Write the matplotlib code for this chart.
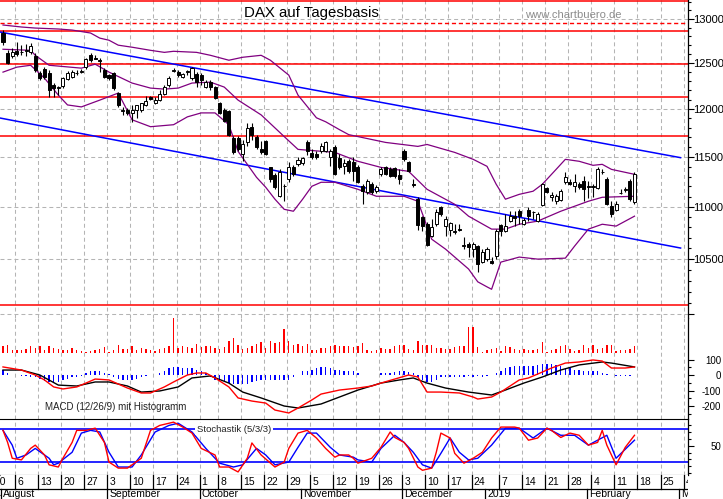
import matplotlib
matplotlib.use("Agg")
import matplotlib.pyplot as plt
from matplotlib.ticker import FixedLocator, FixedFormatter, NullFormatter
import numpy as np
import pandas as pd

plt.rcParams['font.family'] = ['Liberation Sans', 'DejaVu Sans']
plt.rcParams['axes.unicode_minus'] = False

# --- trading calendar shown on the chart ---
closed = pd.to_datetime(["2018-10-03", "2018-12-24", "2018-12-25", "2018-12-26", "2019-01-01"])
cal = pd.bdate_range("2018-07-30", "2019-03-08")
cal = cal[~cal.isin(closed)]
first = cal.get_loc(pd.Timestamp("2018-08-01"))


def pos(date):
    return cal.searchsorted(pd.Timestamp(date)) - first


# --- DAX daily candles, 1 Aug 2018 .. 15 Feb 2019 ---
opens = [12839, 12610, 12576, 12632, 12620, 12632, 12620, 12576, 12389, 12433,
         12389, 12258, 12225, 12247, 12323, 12345, 12385, 12400, 12455, 12587,
         12554, 12532, 12422, 12367, 12389, 12171, 11980, 11990, 11958, 11990,
         11990, 12043, 12128, 12064, 12095, 12160, 12258, 12411, 12400, 12345,
         12400, 12334, 12378, 12367, 12236, 12290, 12236, 12064, 11990, 11980,
         11699, 11699, 11524, 11648, 11812, 11709, 11576, 11658, 11392, 11312,
         11103, 11202, 11272, 11392, 11423, 11433, 11648, 11535, 11524, 11555,
         11555, 11494, 11596, 11484, 11403, 11454, 11443, 11392, 11202, 11143,
         11222, 11153, 11322, 11392, 11372, 11382, 11312, 11555, 11443, 11222,
         11074, 10898, 10830, 10716, 10830, 10995, 10812, 10773, 10754, 10783,
         10621, 10640, 10593, 10621, 10471, 10499, 10480, 10527, 10821, 10764,
         10860, 10908, 10956, 10830, 10966, 10950, 10860, 11015, 11182, 11093,
         11054, 11064, 11242, 11242, 11202, 11222, 11252, 11202, 11195, 11182,
         11342, 11272, 11005, 10966, 11133, 11165, 11252, 11044]
highs = [12873, 12643, 12666, 12735, 12701, 12712, 12724, 12610, 12411, 12455,
         12422, 12280, 12247, 12345, 12411, 12422, 12422, 12433, 12554, 12610,
         12587, 12554, 12444, 12378, 12400, 12182, 12022, 12011, 12043, 12043,
         12064, 12138, 12138, 12128, 12203, 12258, 12356, 12444, 12422, 12389,
         12422, 12455, 12400, 12389, 12312, 12312, 12247, 12074, 12011, 11990,
         11719, 11719, 11678, 11854, 11854, 11729, 11658, 11678, 11392, 11332,
         11372, 11222, 11443, 11413, 11494, 11494, 11678, 11576, 11555, 11638,
         11658, 11576, 11617, 11524, 11474, 11474, 11494, 11413, 11222, 11272,
         11242, 11212, 11392, 11403, 11392, 11392, 11372, 11576, 11454, 11272,
         11093, 10908, 10850, 10879, 10975, 11005, 10908, 10850, 10830, 10830,
         10706, 10659, 10659, 10631, 10593, 10612, 10518, 10783, 10830, 10927,
         10956, 10956, 10975, 10889, 10995, 10956, 10946, 11232, 11192, 11143,
         11122, 11172, 11342, 11272, 11322, 11242, 11302, 11252, 11222, 11392,
         11372, 11292, 11054, 11054, 11172, 11192, 11272, 11342]
lows = [12701, 12487, 12554, 12576, 12587, 12576, 12598, 12400, 12312, 12323,
        12128, 12128, 12149, 12225, 12312, 12334, 12367, 12389, 12433, 12510,
        12543, 12400, 12334, 12312, 12203, 12022, 11937, 11937, 11864, 11906,
        11969, 12032, 12095, 12053, 12085, 12149, 12236, 12400, 12345, 12334,
        12367, 12312, 12236, 12258, 12225, 12203, 12106, 11948, 11864, 11719,
        11524, 11555, 11454, 11607, 11678, 11576, 11524, 11514, 11242, 11172,
        11093, 11054, 11242, 11302, 11403, 11413, 11514, 11474, 11474, 11535,
        11545, 11403, 11312, 11372, 11322, 11332, 11252, 11232, 11024, 11122,
        11122, 11133, 11302, 11312, 11292, 11282, 11222, 11454, 11342, 11192,
        10773, 10764, 10621, 10706, 10812, 10908, 10716, 10716, 10735, 10764,
        10593, 10518, 10518, 10380, 10462, 10480, 10453, 10499, 10716, 10754,
        10850, 10812, 10830, 10821, 10860, 10879, 10850, 11005, 11133, 11054,
        11024, 11054, 11222, 11212, 11143, 11172, 11054, 11083, 11093, 11172,
        11322, 11015, 10898, 10956, 11122, 11143, 11054, 11024]
closes = [12735, 12500, 12620, 12598, 12625, 12643, 12689, 12422, 12334, 12345,
          12203, 12225, 12240, 12334, 12389, 12400, 12389, 12411, 12543, 12532,
          12548, 12525, 12345, 12334, 12225, 12043, 11985, 11958, 11990, 12043,
          12064, 12085, 12106, 12095, 12160, 12236, 12334, 12422, 12367, 12378,
          12411, 12444, 12290, 12312, 12290, 12236, 12117, 11958, 11874, 11729,
          11545, 11576, 11627, 11802, 11729, 11596, 11545, 11524, 11272, 11192,
          11342, 11205, 11392, 11322, 11464, 11484, 11555, 11494, 11494, 11607,
          11648, 11555, 11322, 11392, 11433, 11352, 11352, 11242, 11153, 11252,
          11143, 11192, 11372, 11322, 11302, 11302, 11272, 11474, 11352, 11215,
          10821, 10812, 10631, 10802, 10946, 10927, 10879, 10840, 10760, 10775,
          10630, 10612, 10640, 10453, 10565, 10593, 10462, 10764, 10764, 10812,
          10908, 10889, 10908, 10869, 10908, 10946, 10927, 11222, 11143, 11113,
          11103, 11153, 11292, 11222, 11242, 11192, 11172, 11195, 11205, 11372,
          11347, 11024, 10927, 11024, 11140, 11170, 11074, 11322]

# --- Bollinger bands (20), read at sample days ---
bb_up_day = [0, 4, 7, 12, 15, 19, 21, 23, 25, 28, 32, 35, 37, 42, 45, 49, 52, 56, 58, 62,
             64, 68, 70, 73, 75, 83, 90, 92, 98, 102, 105, 107, 109, 112, 115, 117, 120,
             122, 125, 128, 130, 132, 137]
bb_up = [12931, 12908, 12896, 12885, 12873, 12839, 12781, 12757, 12701, 12678, 12643,
         12620, 12632, 12620, 12587, 12532, 12565, 12587, 12532, 12367, 12149, 11906,
         11864, 11781, 11729, 11648, 11607, 11627, 11545, 11474, 11403, 11222, 11074,
         11122, 11153, 11222, 11372, 11474, 11454, 11413, 11423, 11372, 11322]
bb_mid_day = [0, 6, 7, 10, 17, 20, 23, 28, 32, 35, 38, 41, 45, 48, 51, 56, 61, 64, 72,
              77, 82, 88, 92, 98, 101, 106, 109, 112, 116, 121, 127, 130, 137]
bb_mid = [12655, 12643, 12587, 12476, 12444, 12488, 12400, 12280, 12225, 12214, 12225,
          12280, 12290, 12236, 12095, 11937, 11709, 11576, 11545, 11454, 11392, 11352,
          11172, 11024, 10908, 10783, 10783, 10830, 10860, 10956, 11054, 11093, 11103]
bb_low_day = [0, 3, 6, 9, 12, 14, 17, 21, 25, 28, 32, 37, 40, 43, 46, 49, 51, 53, 55, 57,
              59, 61, 63, 65, 67, 69, 72, 77, 81, 87, 90, 93, 96, 101, 103, 105, 106, 108,
              112, 116, 122, 124, 127, 130, 133, 137]
bb_low = [12400, 12455, 12476, 12334, 12149, 12043, 12022, 12095, 12171, 11885, 11812,
          11833, 11916, 11958, 11958, 11833, 11555, 11423, 11292, 11192, 11074, 10975,
          10956, 11074, 11202, 11242, 11242, 11172, 11103, 11103, 11054, 10687, 10593,
          10407, 10289, 10243, 10221, 10471, 10518, 10499, 10508, 10621, 10783, 10830,
          10812, 10908]

# --- trend lines and horizontal levels ---
trend_day = [-1, 147]
trend_upper = [12854, 11491]
trend_lower = [11907, 10603]
levels_solid = [13210, 12862, 12490, 12132, 11718, 10078]
level_dashed = 12950

# --- volume (relative) ---
volume = [70, 80, 30, 30, 30, 40, 70, 50, 70, 30, 70, 50, 40, 30, 30, 50, 30, 20, 10, 20,
          30, 40, 60, 10, 30, 80, 40, 40, 70, 30, 50, 40, 30, 20, 40, 50, 70, 350, 50, 70,
          60, 50, 90, 60, 70, 70, 50, 40, 60, 120, 150, 80, 40, 50, 70, 90, 110, 50, 120, 100,
          110, 240, 120, 80, 90, 70, 90, 30, 30, 50, 50, 70, 80, 70, 70, 70, 60, 70,
          100, 30, 20, 30, 50, 40, 40, 70, 80, 80, 40, 30, 120, 80, 80, 80, 50, 50, 40, 40,
          60, 70, 70, 260, 260, 60, 10, 30, 40, 50, 20, 70, 60, 40, 30, 40, 30, 30, 40, 110,
          10, 30, 40, 70, 80, 40, 20, 30, 80, 50, 80, 40, 50, 80, 80, 20, 30, 30, 40, 70]

# --- MACD (12/26/9) ---
macd_day = [0, 4, 7, 9, 11, 13, 16, 18, 20, 23, 24, 27, 30, 32, 35, 37, 40, 42, 44, 46,
            49, 51, 54, 57, 59, 62, 64, 67, 69, 73, 77, 80, 82, 85, 88, 90, 92, 95, 99,
            102, 103, 106, 108, 110, 112, 114, 117, 119, 122, 125, 128, 130, 132, 135, 137]
macd = [52, 32, 0, -32, -77, -90, -77, -52, -26, -32, -45, -84, -116, -116, -77, -45, 0,
        13, 13, -19, -77, -148, -168, -181, -226, -245, -213, -161, -123, -97, -84, -71,
        -52, -26, 0, -13, -110, -110, -116, -142, -155, -142, -110, -71, -32, -19, 19, 45,
        77, 84, 97, 90, 45, 45, 52]
signal_day = [0, 4, 8, 12, 16, 20, 23, 27, 30, 34, 38, 41, 45, 49, 52, 56, 61, 64, 69, 73,
              77, 82, 86, 89, 92, 96, 101, 106, 109, 113, 117, 121, 125, 130, 132, 137]
signal = [32, 32, 0, -65, -71, -45, -45, -71, -110, -103, -77, -19, -6, -52, -110, -148,
          -200, -213, -187, -142, -97, -52, -32, -19, -52, -84, -110, -129, -97, -52, -13,
          32, 65, 84, 77, 52]
hist = [32, 13, 0, 0, -6, -6, -13, -16, -26, -39, -45, -52, -45, -32, -23, -16, -13, -6,
        16, 23, 26, 23, 16, 6, -16, -26, -32, -32, -29, -26, -16, -6, -3, 0, 16, 26, 42,
        52, 52, 48, 48, 42, 32, 23, 16, -16, -29, -39, -48, -52, -55, -58, -55, -55, -42,
        -39, -35, -35, -32, -32, -32, -32, -29, -16, -3, 23, 29, 32, 42, 52, 52, 42, 35,
        32, 29, 23, 23, 16,
        0, 0, 0, 3, 10, 13, 16, 19, 23, 23, 19, 13, -10, -32, -48, -42, -32, -16, -16,
        -10, -10, -10, -10, -6, -10, -6, -16, -6, -3, 10, 23, 42, 52, 58, 61, 58, 58, 58,
        65, 74, 71, 68, 65, 55, 42, 42, 35, 32, 29, 23, 23, 23, 16, 6, 0, -6, -6, -6, -6, 0]

# --- Stochastik (5/3/3) ---
k_day = [0, 1, 2, 4, 6, 7, 9, 10, 12, 13, 15, 16, 18, 20, 22, 23, 25, 27, 30, 32, 34, 37,
         39, 41, 43, 46, 47, 49, 51, 53, 54, 56, 59, 61, 62, 64, 66, 68, 70, 72, 73, 75,
         76, 77, 80, 82, 84, 85, 87, 88, 90, 91, 93, 94, 95, 97, 98, 100, 102, 104, 106,
         108, 111, 112, 114, 116, 118, 119, 121, 123, 125, 127, 129, 130, 131, 133, 135, 137]
k_line = [78, 56, 27, 24, 45, 51, 33, 15, 11, 27, 56, 78, 78, 82, 56, 20, 9, 9, 27, 78, 87,
          93, 84, 73, 45, 33, 11, 11, 2, 27, 55, 33, 11, 20, 45, 73, 78, 64, 45, 29, 33, 33,
          27, 18, 27, 47, 75, 65, 56, 45, 11, 5, 9, 38, 73, 64, 36, 18, 27, 38, 64, 84, 84,
          82, 60, 64, 82, 78, 65, 73, 69, 51, 56, 78, 51, 15, 47, 69]
d_day = [0, 2, 3, 5, 7, 10, 11, 12, 15, 17, 19, 21, 23, 25, 28, 30, 33, 36, 38, 41, 44, 47,
         50, 52, 55, 57, 59, 62, 64, 66, 68, 71, 73, 76, 77, 80, 82, 85, 87, 89, 91, 93,
         95, 97, 99, 101, 103, 106, 109, 112, 115, 118, 121, 124, 127, 131, 133, 137]
d_line = [78, 51, 27, 33, 45, 27, 15, 18, 38, 73, 78, 75, 38, 11, 11, 33, 75, 87, 91, 75,
          45, 18, 11, 15, 45, 33, 15, 20, 47, 73, 73, 47, 33, 29, 24, 20, 45, 69, 56, 38,
          15, 9, 36, 64, 38, 24, 27, 51, 82, 82, 64, 82, 69, 69, 51, 69, 27, 60]

# --- axis labels ---
week_starts = ["2018-07-30", "2018-08-06", "2018-08-13", "2018-08-20", "2018-08-27",
               "2018-09-03", "2018-09-10", "2018-09-17", "2018-09-24", "2018-10-01",
               "2018-10-08", "2018-10-15", "2018-10-22", "2018-10-29", "2018-11-05",
               "2018-11-12", "2018-11-19", "2018-11-26", "2018-12-03", "2018-12-10",
               "2018-12-17", "2018-12-24", "2019-01-07", "2019-01-14", "2019-01-21",
               "2019-01-28", "2019-02-04", "2019-02-11", "2019-02-18", "2019-02-25",
               "2019-03-04"]
week_labels = ["30", "6", "13", "20", "27", "3", "10", "17", "24", "1", "8", "15", "22", "29",
               "5", "12", "19", "26", "3", "10", "17", "24", "7", "14", "21", "28", "4",
               "11", "18", "25", "4"]
month_starts = ["2018-08-01", "2018-09-03", "2018-10-01", "2018-11-01", "2018-12-03",
                "2019-01-02", "2019-02-01", "2019-03-01"]
month_labels = ["August", "September", "October", "November", "December", "2019",
                "February", "March"]

# ---------------- layout ----------------
W, H = 723, 499
fig = plt.figure(figsize=(W / 100, H / 100), dpi=100)


def box(x0, y0, x1, y1):
    return [x0 / W, 1 - y1 / H, (x1 - x0) / W, (y1 - y0) / H]


ax = fig.add_axes(box(0, 0, 687.5, 318))
axm = fig.add_axes(box(0, 318, 687.5, 419.3))
axv = fig.add_axes(box(0, 310, 687.5, 353), facecolor='none')
axs = fig.add_axes(box(0, 419.3, 687.5, 475))
axd = fig.add_axes(box(0, 475, 687.5, 499))

xmin, xmax = -0.65, 148.5
grid_kw = dict(color='#b4b4b4', lw=0.75, dashes=(3.8, 2.9), zorder=0)
weeks = np.array([pos(d) for d in week_starts]) - 0.35
months = np.array([pos(d) for d in month_starts]) - 0.35

for a in (ax, axm, axv, axs, axd):
    a.set_xlim(xmin, xmax)
    a.set_xticks([])
    for s in a.spines.values():
        s.set_visible(False)
for a in (ax, axm, axs):
    for wx in weeks:
        a.axvline(wx, **grid_kw)
    a.spines['right'].set_visible(True)
    a.spines['right'].set_linewidth(0.9)
    a.yaxis.tick_right()
    a.tick_params(axis='y', which='major', length=4.6, width=0.8, colors='black')
    a.tick_params(axis='y', which='minor', length=2.4, width=0.8)

# ---------------- price panel ----------------
ax.set_yscale('log')
ax.set_ylim(9963, 13222)
major = list(range(10000, 13001, 500))
ax.yaxis.set_major_locator(FixedLocator(major))
ax.yaxis.set_major_formatter(FixedFormatter([''] + [str(v) for v in major[1:]]))
ax.yaxis.set_minor_locator(FixedLocator(list(range(10000, 13201, 100))))
ax.yaxis.set_minor_formatter(NullFormatter())
ax.tick_params(axis='y', which='major', pad=-0.6, labelsize=8)
for v in major:
    ax.axhline(v, **grid_kw)

for lv in levels_solid:
    ax.axhline(lv, color='#ff0000', lw=1.1, zorder=2)
ax.axhline(level_dashed, color='#ff0000', lw=1.0, dashes=(3, 2), zorder=2)

ax.plot(trend_day, trend_upper, color='#0000ff', lw=1.1, zorder=3)
ax.plot(trend_day, trend_lower, color='#0000ff', lw=1.1, zorder=3)
for d, v in ((bb_up_day, bb_up), (bb_mid_day, bb_mid), (bb_low_day, bb_low)):
    ax.plot(d, v, color='#800080', lw=0.9, zorder=3)

o = np.array(opens, float)
c = np.array(closes, float)
idx = np.arange(len(o))
ax.vlines(idx, lows, highs, color='black', lw=0.8, zorder=4)
bottom = np.minimum(o, c)
height = np.maximum(np.abs(c - o), bottom * 0.0006)
fills = ['black' if cc < oo else 'white' for oo, cc in zip(o, c)]
ax.bar(idx, height, bottom=bottom, width=0.66, color=fills, edgecolor='black',
       linewidth=0.7, zorder=5)

fig.text(573.5 / W, 1 - 15.5 / H, "www.chartbuero.de", fontsize=8.1, color='#8c8c8c',
         ha='center', va='center')
fig.text(311.5 / W, 1 - 12.5 / H, "DAX auf Tagesbasis", fontsize=10.8, ha='center',
         va='center')

# ---------------- volume + MACD ----------------
axv.set_ylim(0, 430)
axv.set_yticks([])
axv.bar(idx, volume, width=0.3, color='#ff0000', zorder=2)

axm.set_ylim(-285.7, 367.7)
axm.yaxis.set_major_locator(FixedLocator([-200, -100, 0, 100]))
axm.yaxis.set_minor_locator(FixedLocator(list(range(-250, 101, 50))))
axm.tick_params(axis='y', which='major', pad=19.6, labelsize=7)
for t in axm.yaxis.get_major_ticks():
    t.label2.set_horizontalalignment('right')
axm.bar(idx, hist, width=0.3, color='#0000ff', zorder=2)
axm.plot(signal_day, signal, color='black', lw=1.0, zorder=3)
axm.plot(macd_day, macd, color='#ff0000', lw=1.0, zorder=4)
axm.text(45 / 687.5, (419.3 - 407.5) / 101.3, "MACD (12/26/9) mit Histogramm",
         transform=axm.transAxes, fontsize=7, color='#222222', va='center', ha='left')

# ---------------- stochastic ----------------
axs.set_ylim(-3.6, 98.2)
axs.spines['top'].set_visible(True)
axs.spines['bottom'].set_visible(True)
axs.yaxis.set_major_locator(FixedLocator([50]))
axs.yaxis.set_minor_locator(FixedLocator([0, 12.5, 25, 37.5, 62.5, 75, 87.5]))
axs.tick_params(axis='y', which='major', pad=19.6, labelsize=7)
for t in axs.yaxis.get_major_ticks():
    t.label2.set_horizontalalignment('right')
axs.axhline(80, color='#0000ff', lw=1.2, zorder=2)
axs.axhline(20, color='#0000ff', lw=1.2, zorder=2)
axs.plot(d_day, d_line, color='#0000ff', lw=1.0, zorder=3)
axs.plot(k_day, k_line, color='#ff0000', lw=1.0, zorder=4)
axs.text(234 / 687.5, 80, "Stochastik (5/3/3)", transform=axs.get_yaxis_transform(),
         fontsize=6.8, color='#222222', ha='center', va='center', zorder=5,
         bbox=dict(facecolor='white', edgecolor='none', pad=1.2))

# ---------------- date axis ----------------
axd.set_ylim(24, 0)
axd.axhline(13.5, color='black', lw=0.9)
for wx, lab in zip(weeks, week_labels):
    axd.plot([wx, wx], [0, 13.5], color='black', lw=0.9)
    axd.text(wx + 0.45, 7.3, lab, fontsize=7.5, ha='left', va='center', clip_on=True)
for mx, lab in zip(months, month_labels):
    axd.plot([mx, mx], [13.5, 24], color='black', lw=0.9)
    axd.text(mx + 0.45, 19.3, lab, fontsize=7.5, ha='left', va='center', clip_on=True)

fig.savefig("out.png", dpi=100)
